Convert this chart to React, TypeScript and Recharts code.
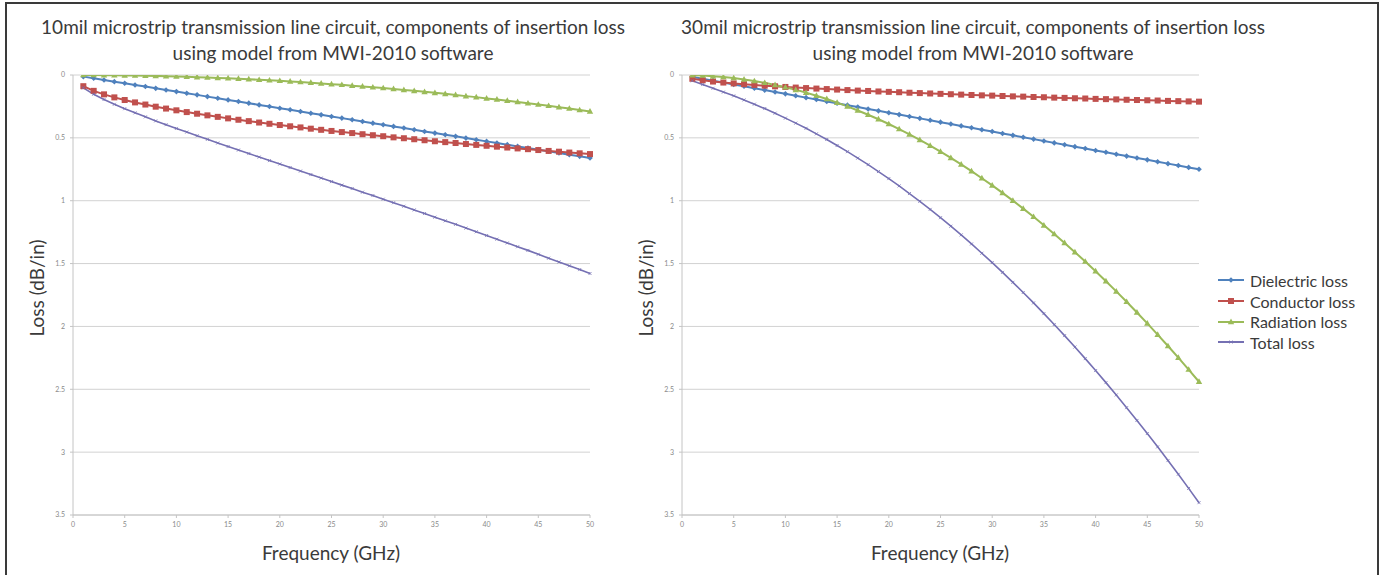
import React from "react";
import { LineChart, Line, XAxis, YAxis, CartesianGrid } from "recharts";

// frequency points, GHz
const freq = [
  1, 2, 3, 4, 5, 6, 7, 8, 9, 10, 11, 12, 13, 14, 15, 16, 17, 18, 19, 20, 21, 22, 23, 24, 25,
  26, 27, 28, 29, 30, 31, 32, 33, 34, 35, 36, 37, 38, 39, 40, 41, 42, 43, 44, 45, 46, 47, 48, 49, 50,
];

// 10mil circuit
const dielectric10 = [
  0.013, 0.026, 0.04, 0.053, 0.066, 0.079, 0.092, 0.106, 0.119, 0.132, 0.145, 0.158, 0.172, 0.185,
  0.198, 0.211, 0.224, 0.238, 0.251, 0.264, 0.277, 0.29, 0.304, 0.317, 0.33, 0.343, 0.356, 0.37,
  0.383, 0.396, 0.409, 0.422, 0.436, 0.449, 0.462, 0.475, 0.488, 0.502, 0.515, 0.528, 0.541, 0.554,
  0.568, 0.581, 0.594, 0.607, 0.62, 0.634, 0.647, 0.66,
];
const conductor10 = [
  0.089, 0.126, 0.154, 0.178, 0.199, 0.218, 0.235, 0.252, 0.267, 0.281, 0.295, 0.308, 0.321, 0.333,
  0.345, 0.356, 0.367, 0.378, 0.388, 0.398, 0.408, 0.417, 0.427, 0.436, 0.445, 0.454, 0.462, 0.471,
  0.479, 0.487, 0.496, 0.503, 0.511, 0.519, 0.527, 0.534, 0.541, 0.549, 0.556, 0.563, 0.57, 0.577,
  0.584, 0.59, 0.597, 0.604, 0.61, 0.617, 0.623, 0.629,
];
const radiation10 = [
  0.0, 0.0, 0.001, 0.002, 0.003, 0.004, 0.006, 0.007, 0.009, 0.012, 0.014, 0.017, 0.02, 0.023, 0.026,
  0.03, 0.034, 0.038, 0.042, 0.046, 0.051, 0.056, 0.061, 0.067, 0.073, 0.078, 0.085, 0.091, 0.098,
  0.104, 0.111, 0.119, 0.126, 0.134, 0.142, 0.15, 0.159, 0.168, 0.176, 0.186, 0.195, 0.205, 0.214,
  0.225, 0.235, 0.245, 0.256, 0.267, 0.279, 0.29,
];
const total10 = [
  0.102, 0.153, 0.195, 0.233, 0.268, 0.301, 0.333, 0.365, 0.395, 0.425, 0.454, 0.483, 0.512, 0.541,
  0.569, 0.597, 0.625, 0.653, 0.681, 0.708, 0.736, 0.764, 0.792, 0.82, 0.848, 0.876, 0.903, 0.932,
  0.959, 0.988, 1.016, 1.044, 1.073, 1.102, 1.131, 1.16, 1.188, 1.218, 1.247, 1.277, 1.306, 1.336,
  1.366, 1.395, 1.426, 1.457, 1.487, 1.518, 1.548, 1.579,
];

// 30mil circuit
const dielectric30 = [
  0.015, 0.03, 0.045, 0.06, 0.075, 0.09, 0.105, 0.12, 0.135, 0.15, 0.165, 0.18, 0.195, 0.21, 0.225,
  0.24, 0.255, 0.27, 0.285, 0.3, 0.315, 0.33, 0.345, 0.36, 0.375, 0.39, 0.405, 0.42, 0.435, 0.45,
  0.465, 0.48, 0.495, 0.51, 0.525, 0.54, 0.555, 0.57, 0.585, 0.6, 0.615, 0.63, 0.645, 0.66, 0.675,
  0.69, 0.705, 0.72, 0.735, 0.75,
];
const conductor30 = [
  0.03, 0.042, 0.052, 0.06, 0.067, 0.073, 0.079, 0.085, 0.09, 0.095, 0.1, 0.104, 0.108, 0.112, 0.116,
  0.12, 0.124, 0.127, 0.131, 0.134, 0.137, 0.141, 0.144, 0.147, 0.15, 0.153, 0.156, 0.159, 0.162,
  0.164, 0.167, 0.17, 0.172, 0.175, 0.177, 0.18, 0.182, 0.185, 0.187, 0.19, 0.192, 0.194, 0.197,
  0.199, 0.201, 0.203, 0.206, 0.208, 0.21, 0.212,
];
const radiation30 = [
  0.001, 0.004, 0.009, 0.016, 0.024, 0.035, 0.048, 0.062, 0.079, 0.098, 0.118, 0.14, 0.165, 0.191,
  0.22, 0.25, 0.282, 0.316, 0.352, 0.39, 0.43, 0.472, 0.516, 0.562, 0.61, 0.66, 0.711, 0.765, 0.821,
  0.878, 0.938, 0.999, 1.063, 1.128, 1.196, 1.265, 1.336, 1.409, 1.484, 1.561, 1.64, 1.721, 1.804,
  1.889, 1.976, 2.065, 2.156, 2.248, 2.343, 2.44,
];
const total30 = [
  0.046, 0.076, 0.106, 0.136, 0.166, 0.198, 0.232, 0.267, 0.304, 0.343, 0.383, 0.424, 0.468, 0.513,
  0.561, 0.61, 0.661, 0.713, 0.768, 0.824, 0.882, 0.943, 1.005, 1.069, 1.135, 1.203, 1.272, 1.344,
  1.418, 1.492, 1.57, 1.649, 1.73, 1.813, 1.898, 1.985, 2.073, 2.164, 2.256, 2.351, 2.447, 2.545,
  2.646, 2.748, 2.852, 2.958, 3.067, 3.176, 3.288, 3.402,
];

const xTicks = [0, 5, 10, 15, 20, 25, 30, 35, 40, 45, 50];
const yTicks = [0, 0.5, 1, 1.5, 2, 2.5, 3, 3.5];
const seriesNames = ["Dielectric loss", "Conductor loss", "Radiation loss", "Total loss"];
const seriesColors = ["#4F81BD", "#C0504D", "#9BBB59", "#7570B3"];

const titles10 = ["10mil microstrip transmission line circuit, components of insertion loss", "using model from MWI-2010 software"];
const titles30 = ["30mil microstrip transmission line circuit, components of insertion loss", "using model from MWI-2010 software"];

const FONT = "Lato, 'Open Sans', sans-serif";
const TEXT = "#3a3a3a";

function marker(kind: number, cx: number, cy: number, color: string, key?: any) {
  if (cx == null || cy == null) return <g key={key} />;
  if (kind === 0) {
    const s = 2.8;
    return <path key={key} d={`M${cx},${cy - s}L${cx + s},${cy}L${cx},${cy + s}L${cx - s},${cy}Z`} fill={color} />;
  }
  if (kind === 1) {
    return <rect key={key} x={cx - 3} y={cy - 3} width={6} height={6} fill={color} />;
  }
  if (kind === 2) {
    return <path key={key} d={`M${cx},${cy - 3.4}L${cx + 3.2},${cy + 2.3}L${cx - 3.2},${cy + 2.3}Z`} fill={color} />;
  }
  return <path key={key} d={`M${cx - 1.5},${cy - 1.5}L${cx + 1.5},${cy + 1.5}M${cx + 1.5},${cy - 1.5}L${cx - 1.5},${cy + 1.5}`} stroke={color} strokeWidth={0.8} />;
}

function Panel({ left, titleCenter, titles, d, c, r, t }: any) {
  const rows = freq.map((f, i) => ({ f, d: d[i], c: c[i], r: r[i], t: t[i] }));
  const keys = ["d", "c", "r", "t"];
  const axisTick = { fontSize: 7, fill: "#8a8a8a", fontFamily: FONT };
  return (
    <>
      <div
        style={{
          position: "absolute",
          left: titleCenter,
          top: 14,
          transform: "translateX(-50%)",
          whiteSpace: "nowrap",
          textAlign: "center",
          fontSize: 19,
          lineHeight: "26px",
          color: TEXT,
          fontFamily: FONT,
        }}
      >
        <div>{titles[0]}</div>
        <div>{titles[1]}</div>
      </div>
      <div style={{ position: "absolute", left, top: 0 }}>
        <LineChart width={600} height={575} data={rows} margin={{ top: 75, right: 10, bottom: 30, left: 0 }}>
          <CartesianGrid vertical={false} stroke="#d2d2d2" />
          <XAxis
            type="number"
            dataKey="f"
            domain={[0, 50]}
            ticks={xTicks}
            interval={0}
            height={30}
            tick={axisTick}
            tickSize={3}
            tickMargin={4}
            stroke="#c4c4c4"
          />
          <YAxis
            type="number"
            domain={[0, 3.5]}
            ticks={yTicks}
            reversed
            interval={0}
            width={73}
            tick={axisTick}
            tickSize={3}
            tickMargin={5}
            stroke="#c4c4c4"
            allowDataOverflow
          />
          {keys.map((k, i) => (
            <Line
              key={k}
              dataKey={k}
              name={seriesNames[i]}
              stroke={seriesColors[i]}
              strokeWidth={i === 3 ? 1.6 : 2}
              isAnimationActive={false}
              dot={(p: any) => marker(i, p.cx, p.cy, seriesColors[i], `${k}-${p.index}`)}
              activeDot={false}
            />
          ))}
        </LineChart>
      </div>
      <div
        style={{
          position: "absolute",
          left: left + 73 + 258,
          top: 541,
          transform: "translateX(-50%)",
          whiteSpace: "nowrap",
          fontSize: 19,
          color: TEXT,
          fontFamily: FONT,
        }}
      >
        Frequency (GHz)
      </div>
      <div
        style={{
          position: "absolute",
          left: left + 36,
          top: 288,
          transform: "translate(-50%, -50%) rotate(-90deg)",
          whiteSpace: "nowrap",
          fontSize: 19,
          color: TEXT,
          fontFamily: FONT,
        }}
      >
        Loss (dB/in)
      </div>
    </>
  );
}

function Legend() {
  return (
    <div style={{ position: "absolute", left: 1217, top: 270 }}>
      {seriesNames.map((n, i) => (
        <div key={n} style={{ display: "flex", alignItems: "center", height: 20.7 }}>
          <svg width={30} height={12}>
            <line x1={1} y1={6} x2={27} y2={6} stroke={seriesColors[i]} strokeWidth={2} />
            {marker(i, 14, 6, seriesColors[i])}
          </svg>
          <span style={{ fontSize: 16, color: TEXT, fontFamily: FONT, marginLeft: 3 }}>{n}</span>
        </div>
      ))}
    </div>
  );
}

export default function App() {
  return (
    <div
      style={{
        position: "fixed",
        left: 0,
        top: 0,
        width: 1384,
        height: 575,
        background: "#fff",
        overflow: "hidden",
      }}
    >
      <div
        style={{
          position: "absolute",
          left: 5,
          top: 2,
          width: 1374,
          height: 600,
          border: "2px solid #3a3a3a",
          boxSizing: "border-box",
        }}
      />
      <Panel left={0} titleCenter={333} titles={titles10} d={dielectric10} c={conductor10} r={radiation10} t={total10} />
      <Panel left={609} titleCenter={973} titles={titles30} d={dielectric30} c={conductor30} r={radiation30} t={total30} />
      <Legend />
    </div>
  );
}
